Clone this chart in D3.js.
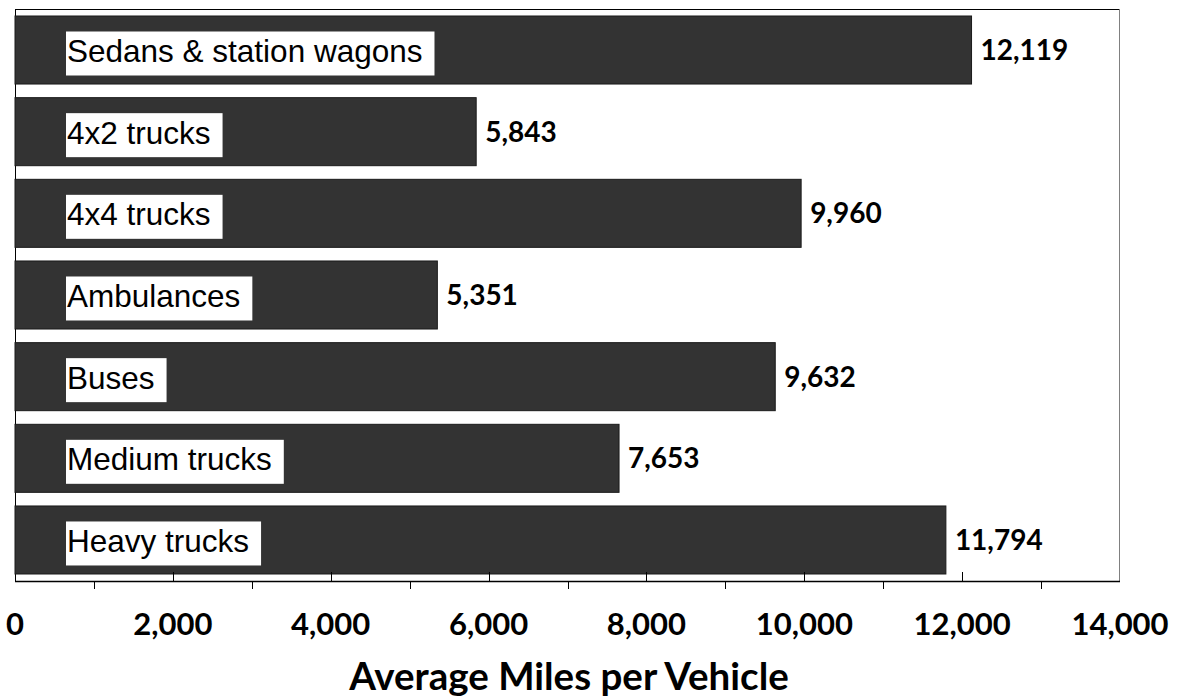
<!DOCTYPE html>
<html><head><meta charset="utf-8">
<script src="https://cdn.jsdelivr.net/npm/d3@7"></script>
<style>body{margin:0;background:#fff}svg{display:block}</style>
</head><body>
<svg id="chart" width="1177" height="697"></svg>
<script>
const categories = ["Sedans & station wagons","4x2 trucks","4x4 trucks","Ambulances","Buses","Medium trucks","Heavy trucks"];
const values = [12119,5843,9960,5351,9632,7653,11794];
const tickValues = [0,2000,4000,6000,8000,10000,12000,14000];
const minorTicks = [1000,3000,5000,7000,9000,11000,13000];
const axisTitle = "Average Miles per Vehicle";

const svg = d3.select("#chart");
const L = 15, R = 1120, T = 9, B = 581;
const x = d3.scaleLinear().domain([0,14000]).range([L,R]);
const y = d3.scaleBand().domain(categories).range([T,B]).paddingInner(0.167).paddingOuter(0.0857);

// frame
svg.append("line").attr("x1",L).attr("x2",R).attr("y1",T+0.5).attr("y2",T+0.5).attr("stroke","#000");
svg.append("line").attr("x1",L+0.5).attr("x2",L+0.5).attr("y1",T).attr("y2",B).attr("stroke","#000");
svg.append("line").attr("x1",R-0.5).attr("x2",R-0.5).attr("y1",T).attr("y2",B).attr("stroke","#808080");

// bars
svg.selectAll("rect.bar").data(values).join("rect").attr("class","bar")
  .attr("x",x(0)).attr("y",(d,i)=>y(categories[i]))
  .attr("width",d=>x(d)-x(0)).attr("height",y.bandwidth())
  .attr("fill","#333333").attr("stroke","#1a1a1a").attr("stroke-width",1);

// category labels in white boxes
const lab = svg.selectAll("g.lab").data(categories).join("g").attr("class","lab")
  .attr("transform",d=>`translate(0,${y(d)})`);
const txt = lab.append("text").attr("x",67).attr("y",46)
  .attr("font-family","'Liberation Sans', Arial, sans-serif").attr("font-size",31.5)
  .attr("fill","#000").text(d=>d);
txt.each(function(){
  const w = this.getComputedTextLength();
  d3.select(this.parentNode).insert("rect","text").attr("x",66).attr("y",15.5)
    .attr("width",w+13).attr("height",44).attr("fill","#fff");
});

// value labels
svg.selectAll("text.val").data(values).join("text").attr("class","val")
  .attr("x",d=>x(d)+9).attr("y",(d,i)=>y(categories[i])+y.bandwidth()/2)
  .attr("dy","0.36em").attr("font-family","Lato, sans-serif").attr("font-weight",700)
  .attr("font-size",28).attr("fill","#000").text(d=>d3.format(",")(d));

// x axis
const ax = svg.append("g").attr("transform",`translate(0,${B})`);
ax.append("line").attr("x1",L).attr("x2",R).attr("y1",0.5).attr("y2",0.5).attr("stroke","#000").attr("stroke-width",1.5);
ax.selectAll("line.maj").data(tickValues.slice(1,-1)).join("line").attr("class","maj")
  .attr("x1",d=>Math.round(x(d))+0.5).attr("x2",d=>Math.round(x(d))+0.5).attr("y1",0).attr("y2",-9).attr("stroke","#000");
ax.selectAll("line.min").data(minorTicks).join("line").attr("class","min")
  .attr("x1",d=>Math.round(x(d))+0.5).attr("x2",d=>Math.round(x(d))+0.5).attr("y1",0).attr("y2",8).attr("stroke","#000");
ax.selectAll("text.tl").data(tickValues).join("text").attr("class","tl")
  .attr("x",d=>x(d)).attr("y",54).attr("text-anchor","middle")
  .attr("font-family","Lato, sans-serif").attr("font-weight",700).attr("font-size",31)
  .attr("fill","#000").text(d=>d3.format(",")(d));

svg.append("text").attr("x",569).attr("y",690).attr("text-anchor","middle")
  .attr("font-family","Lato, sans-serif").attr("font-weight",700).attr("font-size",38.5)
  .attr("fill","#000").text(axisTitle);
</script>
</body></html>
